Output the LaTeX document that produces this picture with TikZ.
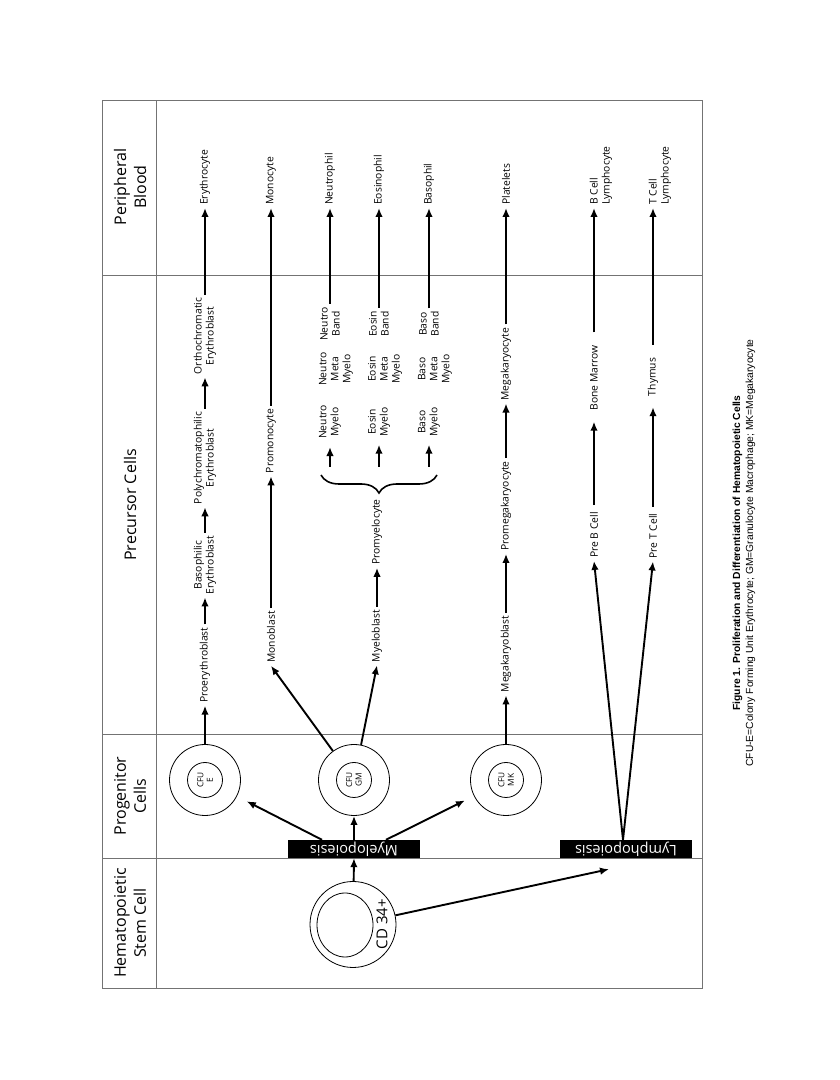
\documentclass[tikz,border=0pt]{standalone}
\usepackage{fontspec}
\setmainfont{Open Sans}
\newfontfamily\capfont{Liberation Sans}
\usetikzlibrary{arrows.meta,decorations.pathreplacing,positioning}

\tikzset{
  cell/.style={font=\fontsize{10.3}{12}\selectfont, align=center, inner xsep=3pt, inner ysep=2pt},
  blood/.style={cell, anchor=west, align=left},
  head/.style={font=\fontsize{16}{20}\selectfont, align=center},
  arr/.style={->, line width=1.9pt},
  grid/.style={draw=black!55, line width=0.9pt},
  ring/.style={circle, draw, line width=0.8pt, minimum size=71pt, inner sep=0pt},
  core/.style={circle, draw, line width=0.8pt, minimum size=35pt, inner sep=0pt, align=center, font=\fontsize{8.3}{9.5}\selectfont},
  poiesis/.style={fill=black, text=white, rotate=90, minimum width=132pt, minimum height=18pt, inner sep=0pt, font=\fontsize{14.5}{15}\selectfont},
}

\begin{document}
\begin{tikzpicture}[x=1pt, y=1pt, >={Latex[length=9pt,width=7.5pt]}]
  \useasboundingbox (0,0) rectangle (840,1080);
  \begin{scope}[shift={(702,92)}, rotate=90, transform shape]
    % table frame
    \draw[grid] (0,0) rectangle (888,600);
    \draw[grid] (0,546) -- (888,546);
    \foreach \u in {130,254,713} \draw[grid] (\u,0) -- (\u,600);
    \node[head](hsc) at (65,572){Hematopoietic\\Stem Cell};
    \node[head](prog) at (192,572){Progenitor\\Cells};
    \node[head](prec) at (483,572){Precursor Cells};
    \node[head](pblood) at (801,572){Peripheral\\Blood};

    % stem cell
    \node[circle, draw, line width=0.8pt, minimum size=86pt](cd34) at (63.5,349){};
    \draw[line width=0.8pt] (63,357) ellipse (32 and 28);
    \node[font=\fontsize{15}{17}\selectfont](cdlab) at (64,320){CD 34+};
    \node[poiesis](myelo) at (139,348){Myelopoiesis};
    \node[poiesis](lympho) at (139,76){Lymphopoiesis};

    % progenitors
    \node[ring](cfue) at (208,497){};
    \node[core](cfuein) at (208,497){CFU\\E};
    \node[ring](cfugm) at (208,348){};
    \node[core](cfugmin) at (208,348){CFU\\GM};
    \node[ring](cfumk) at (208,196){};
    \node[core](cfumkin) at (208,196){CFU\\MK};

    % erythrocyte line
    \node[cell](proery) at (323,497){Proerythroblast};
    \node[cell](basoery) at (423,497){Basophilic\\Erythroblast};
    \node[cell](polyery) at (530,497){Polychromatophilic\\Erythroblast};
    \node[cell](orthoery) at (652,497){Orthochromatic\\Erythroblast};
    \node[blood](erythro) at (780,497){Erythrocyte};

    % monocyte line
    \node[cell](monob) at (351,431){Monoblast};
    \node[cell](promono) at (547,431){Promonocyte};
    \node[blood](mono) at (780,431){Monocyte};

    % granulocytes
    \node[cell](myelob) at (352,325){Myeloblast};
    \node[cell](promyel) at (456,325){Promyelocyte};
    \draw[line width=1.6pt, decorate, decoration={brace, amplitude=18pt}] (513,265) -- (513,381);
    \coordinate(nbr) at (521,372);
    \coordinate(ebr) at (521,323);
    \coordinate(bbr) at (521,273);
    \node[cell](nmyelo) at (566,372){Neutro\\Myelo};
    \node[cell](emyelo) at (566,323){Eosin\\Myelo};
    \node[cell](bmyelo) at (566,273){Baso\\Myelo};
    \node[cell](nmeta) at (619,366){Neutro\\Meta\\Myelo};
    \node[cell](emeta) at (619,317){Eosin\\Meta\\Myelo};
    \node[cell](bmeta) at (619,267){Baso\\Meta\\Myelo};
    \node[cell](nband) at (664,372){Neutro\\Band};
    \node[cell](eband) at (664,323){Eosin\\Band};
    \node[cell](bband) at (664,273){Baso\\Band};
    \node[blood](neutro) at (780,372){Neutrophil};
    \node[blood](eosino) at (780,323){Eosinophil};
    \node[blood](basophil) at (780,273){Basophil};

    % megakaryocyte line
    \node[cell](megab) at (334,196){Megakaryoblast};
    \node[cell](promega) at (482,196){Promegakaryocyte};
    \node[cell](megac) at (624,196){Megakaryocyte};
    \node[blood](platelet) at (780,196){Platelets};

    % lymphocytes
    \node[cell](preb) at (453,108){Pre B Cell};
    \node[cell](bmarrow) at (610,108){Bone Marrow};
    \node[blood](bcell) at (780,101){B Cell\\Lymphocyte};
    \node[cell](pret) at (452,49){Pre T Cell};
    \node[cell](thymus) at (611,49){Thymus};
    \node[blood](tcell) at (780,42){T Cell\\Lymphocyte};

    % connectors
    \draw[arr] (cd34) -- (myelo.north);
    \draw[arr] (cd34) -- ([xshift=-11pt,yshift=17pt]lympho.north);
    \draw[arr] (myelo.south) -- (cfugm);
    \draw[arr, shorten >=11pt] ([yshift=32pt]myelo.south) -- (cfue);
    \draw[arr, shorten >=10pt] ([yshift=-32pt]myelo.south) -- (cfumk);
    \draw[arr] ([yshift=3pt]lympho.south) -- (preb.west);
    \draw[arr] ([yshift=3pt]lympho.south) -- (pret.west);

    \draw[arr] (cfue) -- (proery);
    \draw[arr] (proery) -- (basoery);
    \draw[arr] (basoery) -- (polyery);
    \draw[arr] (polyery) -- (orthoery);
    \draw[arr] (orthoery) -- (erythro);

    \draw[arr] (cfugm) -- (monob.west);
    \draw[arr] (monob) -- (promono);
    \draw[arr] (promono) -- (mono);
    \draw[arr] (cfugm) -- (myelob.west);
    \draw[arr] (myelob) -- (promyel);
    \draw[arr, shorten >=5pt] (nbr) -- (nmyelo);
    \draw[arr, shorten >=5pt] (ebr) -- (emyelo);
    \draw[arr, shorten >=5pt] (bbr) -- (bmyelo);
    \draw[arr] (nband) -- (neutro);
    \draw[arr] (eband) -- (eosino);
    \draw[arr] (bband) -- (basophil);

    \draw[arr] (cfumk) -- (megab);
    \draw[arr] (megab) -- (promega);
    \draw[arr] (promega) -- (megac);
    \draw[arr] (megac) -- (platelet);

    \draw[arr, shorten <=4pt, shorten >=8pt] (preb) -- (bmarrow);
    \draw[arr, shorten <=10pt] (bmarrow) -- ([yshift=7pt]bcell.west);
    \draw[arr, shorten <=4pt, shorten >=8pt] (pret) -- (thymus);
    \draw[arr, shorten <=10pt] (thymus) -- ([yshift=7pt]tcell.west);

    \node[font=\capfont\fontsize{10.3}{13}\selectfont, align=center](caption) at (435,-42){\textbf{Figure 1. Proliferation and Differentiation of Hematopoietic Cells}\\CFU-E=Colony Forming Unit Erythrocyte; GM=Granulocyte Macrophage; MK=Megakaryocyte};
  \end{scope}
\end{tikzpicture}
\end{document}
